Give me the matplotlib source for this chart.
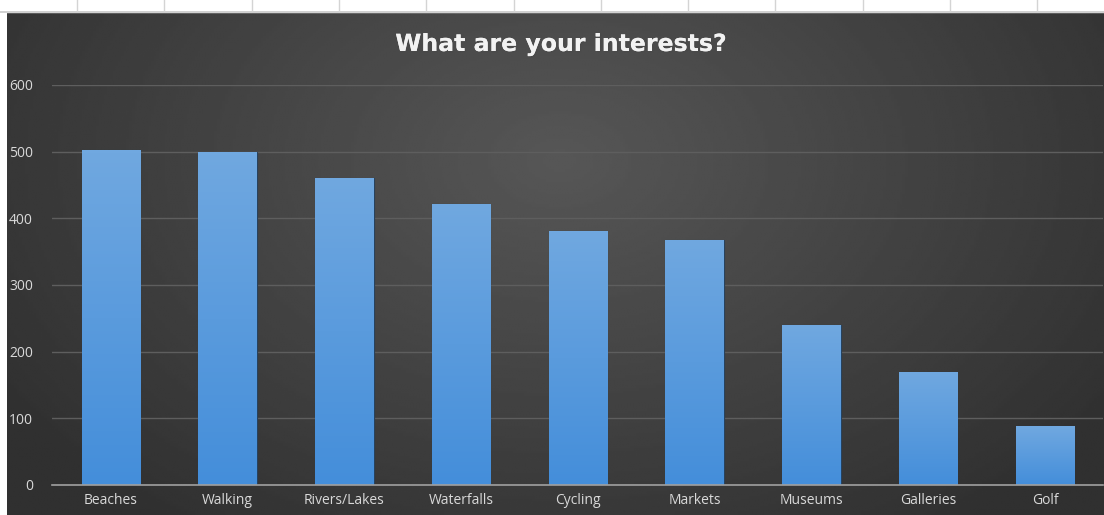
import matplotlib.pyplot as plt
import matplotlib.patheffects as pe
from matplotlib.patches import Rectangle
import numpy as np

categories = ['Beaches', 'Walking', 'Rivers/Lakes', 'Waterfalls', 'Cycling',
              'Markets', 'Museums', 'Galleries', 'Golf']
counts = [502, 499, 461, 422, 381, 368, 240, 170, 88]
yticks = [0, 100, 200, 300, 400, 500, 600]

W, H = 1104, 515
fig = plt.figure(figsize=(W / 100, H / 100), dpi=100)
fig.patch.set_facecolor('white')

# background: dark radial gradient in the chart area
bg = fig.add_axes([0, 0, 1, 1], zorder=0)
bg.set_xlim(0, W)
bg.set_ylim(H, 0)
bg.axis('off')
gx, gy = np.meshgrid(np.linspace(7, W, 400), np.linspace(12, H, 200))
r = np.sqrt(((gx - 560) / 620) ** 2 + ((gy - 160) / 420) ** 2)
shade = np.clip(0.34 - 0.14 * r, 0.19, 0.34)
bg.imshow(shade, cmap='gray', vmin=0, vmax=1, extent=[7, W, H, 12],
          aspect='auto', interpolation='bilinear')

# spreadsheet strip at the top
bg.add_patch(Rectangle((0, 0), W, 12, color='white'))
bg.plot([0, W], [12, 12], color='#c8c8c8', lw=1.2)
for x in np.arange(77, W, 87.3):
    bg.plot([x, x], [0, 11], color='#d4d4d4', lw=1)

ax = fig.add_axes([52.4 / W, 30 / H, 1051 / W, 400 / H], zorder=1)
ax.patch.set_alpha(0)
pos = np.arange(len(categories))
bars = ax.bar(pos, counts, width=0.5, color='#5b9bd5', edgecolor='#27425e',
              linewidth=0.8, zorder=3)

grad = np.linspace(0, 1, 100).reshape(-1, 1)
top = np.array([112, 168, 224]) / 255
bottom = np.array([68, 142, 218]) / 255
img = (bottom + (top - bottom) * grad[:, :, None] * np.ones((1, 1, 3)))
for b in bars:
    x0, w, h = b.get_x(), b.get_width(), b.get_height()
    im = ax.imshow(img, extent=[x0, x0 + w, 0, h], origin='lower',
                   aspect='auto', zorder=3.5)
    im.set_clip_path(b)

ax.set_xlim(-0.5, len(categories) - 0.5)
ax.set_ylim(0, 600)
ax.set_yticks(yticks)
ax.set_xticks(pos)
ax.set_xticklabels(categories)
ax.yaxis.grid(True, color='#5e5e5e', lw=1)
ax.set_axisbelow(True)
for s in ['top', 'right', 'left']:
    ax.spines[s].set_visible(False)
ax.spines['bottom'].set_color('#a0a0a0')
ax.spines['bottom'].set_linewidth(1.2)
ax.spines['bottom'].set_zorder(4)
ax.tick_params(length=0, colors='#d9d9d9', labelsize=10)
ax.tick_params(axis='y', pad=14)
ax.tick_params(axis='x', pad=6)
for t in ax.get_xticklabels() + ax.get_yticklabels():
    t.set_fontfamily('Open Sans')
    t.set_color('#d9d9d9')

fig.text(561 / W, 1 - 44 / H, 'What are your interests?', ha='center',
         va='center', fontsize=17, fontweight='bold', color='#f2f2f2',
         fontfamily='DejaVu Sans',
         path_effects=[pe.withSimplePatchShadow(offset=(1, -1), alpha=0.6),
                       pe.Normal()])

fig.savefig('out.png', dpi=100)
